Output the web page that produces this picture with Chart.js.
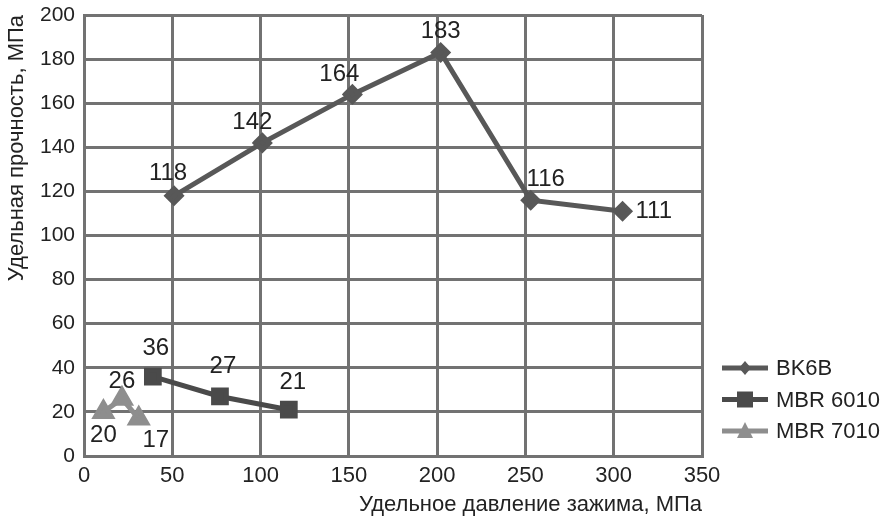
<!DOCTYPE html>
<html>
<head>
<meta charset="utf-8">
<script src="https://cdn.jsdelivr.net/npm/chart.js@4/dist/chart.umd.min.js"></script>
<style>
  html, body { margin: 0; padding: 0; background: #fff; }
  #wrap { width: 890px; height: 522px; }
</style>
</head>
<body>
<div id="wrap"><canvas id="chart" width="890" height="522"></canvas></div>
<script>
// данные
const seriesNames = ["BK6B", "MBR 6010", "MBR 7010"];
const bkX = [51, 101, 152, 202, 253, 305];
const bkY = [118, 142, 164, 183, 116, 111];
const m6010X = [39, 77, 116];
const m6010Y = [36, 27, 21];
const m7010X = [11, 21.5, 31];
const m7010Y = [20, 26, 17];
const xTicks = [0, 50, 100, 150, 200, 250, 300, 350];
const yTicks = [0, 20, 40, 60, 80, 100, 120, 140, 160, 180, 200];

// смещения подписей (dx, dy, выравнивание)
const bkLabelPos = [[-6, -22, 'center'], [-10, -21, 'center'], [-13, -20, 'center'], [0, -21, 'center'], [15, -21, 'center'], [13, 0, 'left']];
const m6010LabelPos = [[3, -28, 'center'], [3, -30, 'center'], [4, -27, 'center']];
const m7010LabelPos = [[0, 23, 'center'], [0, -17, 'center'], [17, 22, 'center']];

const colors = ["#585858", "#4a4a4a", "#8e8e8e"];
const styles = ['rectRot', 'rect', 'triangle'];
const FONT = "'Liberation Sans', Arial, sans-serif";
const TEXT = "#222";

function pts(xs, ys) {
    return xs.map(function (x, i) { return { x: x, y: ys[i] }; });
}

function marker(g, style, cx, cy) {
    g.beginPath();
    if (style === 'rectRot') {
        g.moveTo(cx, cy - 7); g.lineTo(cx + 6, cy); g.lineTo(cx, cy + 7); g.lineTo(cx - 6, cy);
    } else if (style === 'rect') {
        g.rect(cx - 8, cy - 8, 16, 16);
    } else {
        g.moveTo(cx, cy - 9); g.lineTo(cx + 8, cy + 7); g.lineTo(cx - 8, cy + 7);
    }
    g.closePath(); g.fill();
}

const labelPlugin = {
    id: 'valueLabels',
    afterDatasetsDraw(chart) {
        const ctx = chart.ctx;
        const posList = [bkLabelPos, m6010LabelPos, m7010LabelPos];
        ctx.save();
        ctx.font = "24px " + FONT;
        ctx.fillStyle = TEXT;
        ctx.textBaseline = 'middle';
        chart.data.datasets.forEach(function (ds, i) {
            chart.getDatasetMeta(i).data.forEach(function (el, j) {
                const p = posList[i][j];
                ctx.textAlign = p[2];
                ctx.fillText(String(ds.data[j].y), el.x + p[0], el.y + p[1]);
            });
        });
        ctx.restore();
    }
};

// легенда справа внизу
const legendPlugin = {
    id: 'sideLegend',
    afterDraw(chart) {
        const ctx = chart.ctx;
        const x0 = 722, y0 = 368, step = 31.5;
        ctx.save();
        ctx.font = "22px " + FONT;
        ctx.textBaseline = 'middle';
        ctx.textAlign = 'left';
        seriesNames.forEach(function (name, i) {
            const y = y0 + i * step;
            ctx.strokeStyle = colors[i];
            ctx.fillStyle = colors[i];
            ctx.lineWidth = 5;
            ctx.beginPath(); ctx.moveTo(x0, y); ctx.lineTo(x0 + 46, y); ctx.stroke();
            marker(ctx, styles[i], x0 + 23, y);
            ctx.fillStyle = TEXT;
            ctx.fillText(name, x0 + 54, y + 1);
        });
        ctx.restore();
    }
};

new Chart(document.getElementById('chart'), {
    type: 'scatter',
    data: {
        datasets: [
            { label: seriesNames[0], data: pts(bkX, bkY), showLine: true, borderColor: colors[0], backgroundColor: colors[0],
              borderWidth: 5, pointStyle: 'rectRot', pointRadius: 7, pointHoverRadius: 7 },
            { label: seriesNames[1], data: pts(m6010X, m6010Y), showLine: true, borderColor: colors[1], backgroundColor: colors[1],
              borderWidth: 5, pointStyle: 'rect', pointRadius: 9, pointHoverRadius: 9 },
            { label: seriesNames[2], data: pts(m7010X, m7010Y), showLine: true, borderColor: colors[2], backgroundColor: colors[2],
              borderWidth: 5, pointStyle: 'triangle', pointRadius: 9, pointHoverRadius: 9 }
        ]
    },
    options: {
        responsive: false,
        animation: false,
        layout: { padding: { top: 0, right: 188, left: 0, bottom: 0 } },
        plugins: {
            legend: { display: false },
            tooltip: { enabled: false }
        },
        scales: {
            x: {
                type: 'linear', min: 0, max: 350,
                afterBuildTicks: function (s) { s.ticks = xTicks.map(function (v) { return { value: v }; }); },
                afterFit: function (s) { s.height = 66; },
                grid: { color: "#727272", lineWidth: 3, drawTicks: false },
                border: { color: "#727272", width: 3 },
                ticks: { color: TEXT, font: { family: FONT, size: 22 }, padding: 7 },
                title: { display: true, text: "Удельное давление зажима, МПа", align: 'end', color: TEXT,
                         font: { family: FONT, size: 22 }, padding: { top: 0, bottom: 4 } }
            },
            y: {
                type: 'linear', min: 0, max: 200,
                afterBuildTicks: function (s) { s.ticks = yTicks.map(function (v) { return { value: v }; }); },
                afterFit: function (s) { s.width = 84; s.paddingTop = 15; },
                grid: { color: "#727272", lineWidth: 3, drawTicks: false },
                border: { color: "#727272", width: 3 },
                ticks: { color: TEXT, font: { family: FONT, size: 21 }, padding: 9 },
                title: { display: true, text: "Удельная прочность, МПа", align: 'end', color: TEXT,
                         font: { family: FONT, size: 22 }, padding: { top: 4, bottom: 0 } }
            }
        }
    },
    plugins: [labelPlugin, legendPlugin]
});
</script>
</body>
</html>
